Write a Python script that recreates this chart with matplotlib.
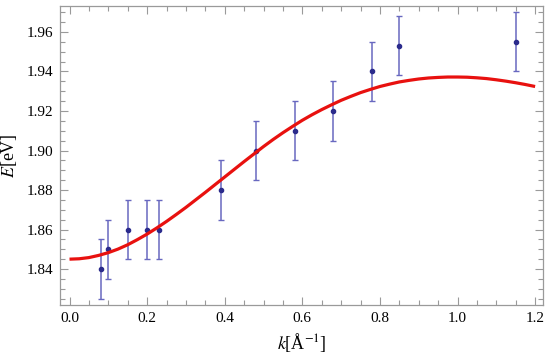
import matplotlib
matplotlib.use("Agg")
import matplotlib.pyplot as plt
from matplotlib.ticker import MultipleLocator, FormatStrFormatter

plt.rcParams['font.family'] = ['Liberation Serif']
plt.rcParams['mathtext.fontset'] = 'stix'

# measured data points
k_data = [0.08, 0.10, 0.15, 0.20, 0.23, 0.39, 0.48, 0.58, 0.68, 0.78, 0.85, 1.15]
E_data = [1.840, 1.850, 1.860, 1.860, 1.860, 1.880, 1.900, 1.910, 1.920, 1.940, 1.953, 1.955]
E_err = [0.015] * 12

# fitted curve
k_fit = [0.000, 0.025, 0.050, 0.075, 0.100, 0.125, 0.150, 0.175, 0.200, 0.225,
         0.250, 0.275, 0.300, 0.325, 0.350, 0.375, 0.400, 0.425, 0.450, 0.475,
         0.500, 0.525, 0.550, 0.575, 0.600, 0.625, 0.650, 0.675, 0.700, 0.725,
         0.750, 0.775, 0.800, 0.825, 0.850, 0.875, 0.900, 0.925, 0.950, 0.975,
         1.000, 1.025, 1.050, 1.075, 1.100, 1.125, 1.150, 1.175, 1.200]
E_fit = [1.8450, 1.8452, 1.8458, 1.8469, 1.8483, 1.8501, 1.8523, 1.8549, 1.8577, 1.8608,
         1.8641, 1.8676, 1.8712, 1.8750, 1.8788, 1.8827, 1.8866, 1.8905, 1.8944, 1.8982,
         1.9020, 1.9056, 1.9090, 1.9122, 1.9153, 1.9181, 1.9207, 1.9231, 1.9254, 1.9274,
         1.9293, 1.9309, 1.9324, 1.9336, 1.9347, 1.9355, 1.9362, 1.9367, 1.9370, 1.9372,
         1.9372, 1.9371, 1.9368, 1.9364, 1.9358, 1.9351, 1.9343, 1.9334, 1.9324]

fig = plt.figure(figsize=(5.5, 3.57), dpi=100)
ax = fig.add_axes([60/550, 1 - 305/357, (543.3 - 60)/550, (305 - 5.7)/357])

ax.errorbar(k_data, E_data, yerr=E_err, fmt='o', color='#2b2b8c', ms=3,
            ecolor='#6868c0', elinewidth=1.1, capsize=2.5, capthick=1.0, zorder=2)
ax.plot(k_fit, E_fit, color='#e8110f', lw=2.3, zorder=3, solid_capstyle='butt')

ax.set_xlim(-0.0245, 1.2211)
ax.set_ylim(1.8218, 1.9733)

ax.xaxis.set_major_locator(MultipleLocator(0.2))
ax.xaxis.set_minor_locator(MultipleLocator(0.05))
ax.yaxis.set_major_locator(MultipleLocator(0.02))
ax.yaxis.set_minor_locator(MultipleLocator(0.005))
ax.xaxis.set_major_formatter(FormatStrFormatter('%.1f'))
ax.yaxis.set_major_formatter(FormatStrFormatter('%.2f'))

ax.tick_params(which='both', direction='in', top=True, right=True, color='#9a9a9a',
               labelsize=11, width=0.8)
ax.tick_params(which='major', length=6, pad=5)
ax.tick_params(which='minor', length=3.5)
for s in ax.spines.values():
    s.set_color('#9a9a9a')
    s.set_linewidth(0.9)

ax.set_xlabel(r'$k$[Å$^{-1}$]', fontsize=13, labelpad=4)
ax.set_ylabel(r'$E$[eV]', fontsize=13, labelpad=5)

fig.savefig('out.png', dpi=100)
